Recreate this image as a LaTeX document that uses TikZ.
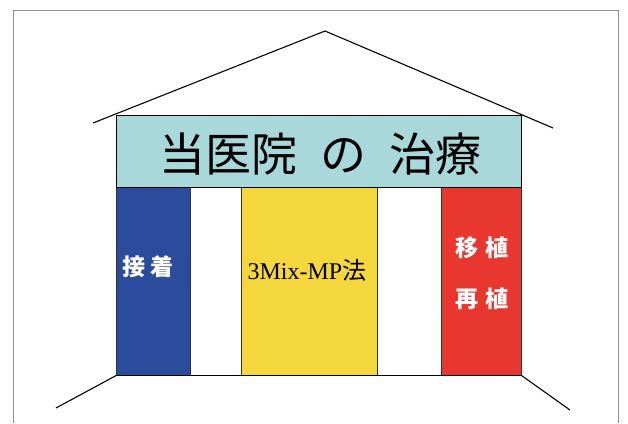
\documentclass[tikz,border=0pt]{standalone}
\usepackage{fontspec}
\setmainfont{Liberation Serif}
\newfontfamily\jp{Noto Sans CJK JP}
\definecolor{bannerc}{HTML}{A9D8DB}
\definecolor{pblue}{HTML}{2B4C9C}
\definecolor{pyellow}{HTML}{F4D73C}
\definecolor{pred}{HTML}{E8372F}
\definecolor{framec}{HTML}{909090}
\tikzset{
  outline/.style={draw=black, line width=1.1pt},
  colbox/.style={draw=black!80, line width=0.6pt, anchor=north west, inner sep=0pt},
  framestyle/.style={draw=framec, line width=1pt},
  whitelabel/.style={text=white, font={\jp\bfseries\fontsize{23}{27}\selectfont}, align=center, inner sep=0pt},
}
\begin{document}
\begin{tikzpicture}[x=1pt,y=-1pt]
\useasboundingbox (0,0) rectangle (628,423);
\fill[white] (0,0) rectangle (628,423);
\draw[framestyle] (13,423) -- (13,10) -- (618,10) -- (618,423);
% columns
\node[colbox, fill=pblue, minimum width=74pt, minimum height=188pt] (c1) at (116,187) {};
\node[colbox, fill=pyellow, minimum width=136pt, minimum height=188pt] (c2) at (241,187) {};
\node[colbox, fill=pred, minimum width=80pt, minimum height=188pt] (c3) at (441,187) {};
% banner
\node[colbox, fill=bannerc, draw=black, line width=1pt, minimum width=405pt, minimum height=72pt] (banner) at (116,115) {};
\node[inner sep=0pt, font={\jp\fontsize{46}{52}\selectfont}] (title) at (320,154) {当医院\hspace{0.5em}の\hspace{0.5em}治療};
% roof
\coordinate (apex) at (325,31);
\coordinate (roofL) at (93,123);
\coordinate (roofR) at (553,128);
\draw[outline] (roofL) -- (apex) -- (roofR);
% floor
\coordinate (floorL) at (56,408);
\coordinate (floorR) at (570,410);
\draw[outline] (c1.south west) -- (c3.south east);
\draw[outline] (c1.south west) -- (floorL);
\draw[outline] (c3.south east) -- (floorR);
% labels
\node[whitelabel] (l1) at (148,267) {接\hspace{0.25em}着};
\node[inner sep=0pt, font={\fontsize{24}{28}\selectfont}] (l2) at (307,270) {3Mix-MP{\jp 法}};
\node[whitelabel] (l3) at (482,248) {移\hspace{0.3em}植};
\node[whitelabel] (l4) at (482,299) {再\hspace{0.3em}植};
\end{tikzpicture}
\end{document}
